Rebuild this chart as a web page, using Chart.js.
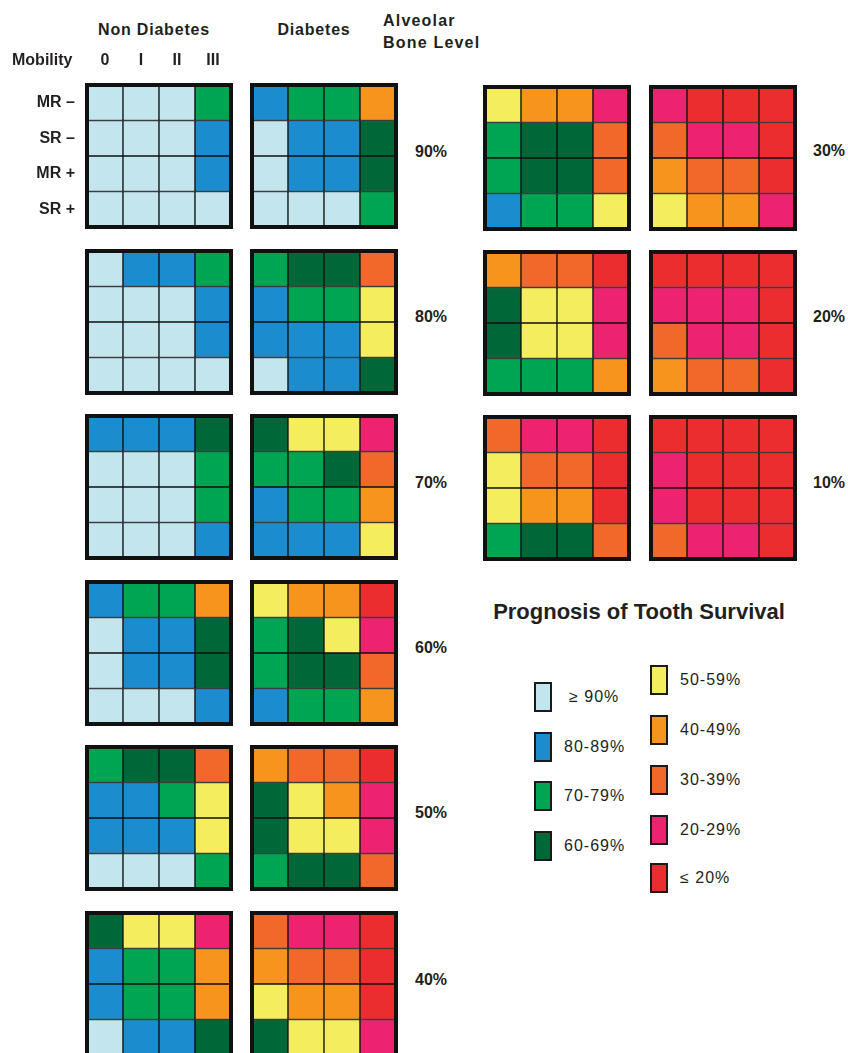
<!DOCTYPE html>
<html>
<head>
<meta charset="utf-8">
<script src="https://cdn.jsdelivr.net/npm/chart.js@4.4.1/dist/chart.umd.min.js"></script>
<style>
body { margin: 0; background: #fff; }
#page { position: relative; width: 848px; height: 1053px; overflow: hidden; font-family: "Liberation Sans", Arial, sans-serif; color: #231f20; }
.lbl { position: absolute; font-weight: bold; font-size: 16px; line-height: 16px; white-space: nowrap; }
.hd { letter-spacing: 0.8px; }
.hd2 { letter-spacing: 1.2px; }
canvas { position: absolute; }
.sw { position: absolute; width: 14px; height: 26px; border: 2px solid #1a1a1a; }
.lt { position: absolute; font-size: 16px; line-height: 16px; letter-spacing: 1px; white-space: nowrap; }
</style>
</head>
<body>
<div id="page"></div>
<script>
// prognosis classes (index used in the grids below)
const classLabels = ['\u2265 90%', '80-89%', '70-79%', '60-69%', '50-59%', '40-49%', '30-39%', '20-29%', '\u2264 20%'];
const classColors = ['#c3e5ee', '#1b8ccd', '#00a551', '#006838', '#f4ee5e', '#f7941e', '#f2672a', '#ed2370', '#ec2d2f'];

const mobility = ['0', 'I', 'II', 'III'];
const rowLabels = ['MR \u2013', 'SR \u2013', 'MR +', 'SR +'];
const boneLevels = ['90%', '80%', '70%', '60%', '50%', '40%', '30%', '20%', '10%'];

// rows: MR-, SR-, MR+, SR+ ; columns: mobility 0, I, II, III
const nonDiabetes = [
    [[0,0,0,2],[0,0,0,1],[0,0,0,1],[0,0,0,0]],
    [[0,1,1,2],[0,0,0,1],[0,0,0,1],[0,0,0,0]],
    [[1,1,1,3],[0,0,0,2],[0,0,0,2],[0,0,0,1]],
    [[1,2,2,5],[0,1,1,3],[0,1,1,3],[0,0,0,1]],
    [[2,3,3,6],[1,1,2,4],[1,1,1,4],[0,0,0,2]],
    [[3,4,4,7],[1,2,2,5],[1,2,2,5],[0,1,1,3]],
    [[4,5,5,7],[2,3,3,6],[2,3,3,6],[1,2,2,4]],
    [[5,6,6,8],[3,4,4,7],[3,4,4,7],[2,2,2,5]],
    [[6,7,7,8],[4,6,6,8],[4,5,5,8],[2,3,3,6]]
];
const diabetes = [
    [[1,2,2,5],[0,1,1,3],[0,1,1,3],[0,0,0,2]],
    [[2,3,3,6],[1,2,2,4],[1,1,1,4],[0,1,1,3]],
    [[3,4,4,7],[2,2,3,6],[1,2,2,5],[1,1,1,4]],
    [[4,5,5,8],[2,3,4,7],[2,3,3,6],[1,2,2,5]],
    [[5,6,6,8],[3,4,5,7],[3,4,4,7],[2,3,3,6]],
    [[6,7,7,8],[5,6,6,8],[4,5,5,8],[3,4,4,7]],
    [[7,8,8,8],[6,7,7,8],[5,6,6,8],[4,5,5,7]],
    [[8,8,8,8],[7,7,7,8],[6,7,7,8],[5,6,6,8]],
    [[8,8,8,8],[7,8,8,8],[7,8,8,8],[6,7,7,8]]
];

const page = document.getElementById('page');
const textColor = '#231f20';
Chart.defaults.font.family = '"Liberation Sans", Arial, sans-serif';
Chart.defaults.color = textColor;

function add_text(text, x, cy, cls, align) {
    const el = document.createElement('div');
    el.className = cls;
    el.textContent = text;
    el.style.top = (cy - 8) + 'px';
    el.style.left = x + 'px';
    if (align === 'center') {
        el.style.transform = 'translateX(-50%)';
    }
    page.appendChild(el);
    return el;
}

const framePlugin = {
    id: 'frame',
    afterDatasetsDraw(chart) {
        const a = chart.chartArea;
        const ctx = chart.ctx;
        ctx.save();
        ctx.strokeStyle = '#111';
        ctx.lineWidth = 4;
        ctx.strokeRect(a.left, a.top, a.right - a.left, a.bottom - a.top);
        ctx.restore();
    }
};

function make_grid(cells, ox, oy, with_axes) {
    const canvas = document.createElement('canvas');
    const axis_w = ox + 2;
    const axis_h = 45;
    if (with_axes) {
        canvas.width = ox + 148;
        canvas.height = axis_h + 142 + 2;
        canvas.style.left = '0px';
        canvas.style.top = (oy + 2 - axis_h) + 'px';
    } else {
        canvas.width = 148;
        canvas.height = 146;
        canvas.style.left = ox + 'px';
        canvas.style.top = oy + 'px';
    }
    page.appendChild(canvas);

    // bottom row (SR +) first so the stack builds upward
    const datasets = [];
    for (let r = cells.length - 1; r >= 0; r--) {
        datasets.push({
            label: rowLabels[r],
            data: cells[r].map(() => 1),
            backgroundColor: cells[r].map(k => classColors[k]),
            borderColor: '#111',
            borderWidth: 1,
            borderSkipped: false,
            barPercentage: 1,
            categoryPercentage: 1
        });
    }

    const tickFont = { size: 16, weight: 'bold' };
    new Chart(canvas, {
        type: 'bar',
        data: { labels: mobility, datasets: datasets },
        plugins: [framePlugin],
        options: {
            responsive: false,
            animation: false,
            events: [],
            layout: { padding: with_axes ? { left: 0, top: 0, right: 2, bottom: 2 } : 2 },
            plugins: { legend: { display: false }, tooltip: { enabled: false } },
            scales: {
                x: {
                    stacked: true,
                    display: with_axes,
                    position: 'top',
                    grid: { display: false, drawTicks: false },
                    border: { display: false },
                    ticks: { font: tickFont, color: textColor, padding: 15, maxRotation: 0 },
                    afterFit: (s) => {
                        if (with_axes) s.height = axis_h;
                        s.paddingLeft = 0;
                        s.paddingRight = 0;
                    }
                },
                y: {
                    stacked: true,
                    display: with_axes,
                    min: 0,
                    max: 4,
                    grid: { display: false, drawTicks: false },
                    border: { display: false },
                    afterBuildTicks: (axis) => {
                        axis.ticks = [0.5, 1.5, 2.5, 3.5].map(v => ({ value: v }));
                    },
                    ticks: {
                        autoSkip: false,
                        font: tickFont,
                        color: textColor,
                        padding: 12,
                        callback: (value, index) => rowLabels[3 - index]
                    },
                    afterFit: (s) => {
                        if (with_axes) s.width = axis_w;
                        s.paddingTop = 0;
                        s.paddingBottom = 0;
                    }
                }
            }
        }
    });
}

// layout of the grids
const leftTops = [83, 249, 414, 580, 745, 911];
const rightTops = [85, 250, 415];
const leftLabelY = [152, 317, 483, 648, 813, 980];
const rightLabelY = [151, 317, 483];

boneLevels.forEach((level, i) => {
    if (i < 6) {
        make_grid(nonDiabetes[i], 85, leftTops[i], i === 0);
        make_grid(diabetes[i], 250, leftTops[i], false);
        add_text(level, 415, leftLabelY[i], 'lbl');
    } else {
        const j = i - 6;
        make_grid(nonDiabetes[i], 483, rightTops[j], false);
        make_grid(diabetes[i], 649, rightTops[j], false);
        add_text(level, 813, rightLabelY[j], 'lbl');
    }
});

// headers
add_text('Non Diabetes', 154, 30, 'lbl hd', 'center');
add_text('Diabetes', 314, 30, 'lbl hd', 'center');
add_text('Alveolar', 383, 21, 'lbl hd2');
add_text('Bone Level', 383, 43, 'lbl hd2');
add_text('Mobility', 12, 60, 'lbl');

// legend
const title = add_text('Prognosis of Tooth Survival', 639, 612, 'lbl', 'center');
title.style.fontSize = '22px';
title.style.lineHeight = '22px';
title.style.top = '601px';

const legendLeftTops = [682, 732, 781, 831];
const legendRightTops = [665, 715, 765, 815, 863];
classLabels.forEach((lab, k) => {
    const sw = document.createElement('div');
    sw.className = 'sw';
    sw.style.background = classColors[k];
    let sx, sy, tx;
    if (k < 4) {
        sx = 534; sy = legendLeftTops[k]; tx = k === 0 ? 569 : 564;
    } else {
        sx = 650; sy = legendRightTops[k - 4]; tx = 680;
    }
    sw.style.left = sx + 'px';
    sw.style.top = sy + 'px';
    page.appendChild(sw);
    add_text(lab, tx, sy + 15, 'lt');
});
</script>
</body>
</html>
